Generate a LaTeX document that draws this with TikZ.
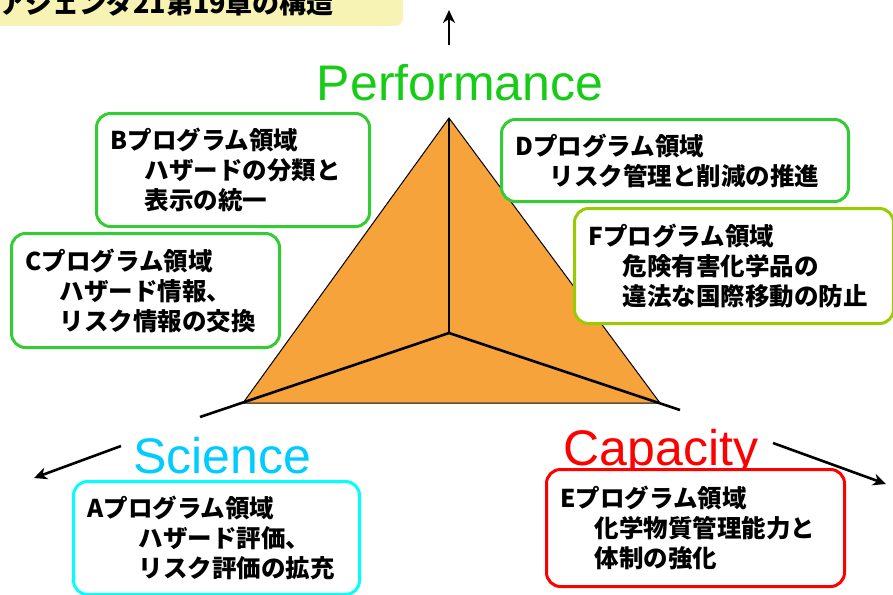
\documentclass[tikz,border=0pt]{standalone}
\usepackage{fontspec}
\setmainfont{Liberation Sans}
\newfontfamily\jpfont{Noto Sans CJK JP}
\usetikzlibrary{arrows.meta}
\definecolor{axPerf}{RGB}{22,204,22}
\definecolor{axSci}{RGB}{0,204,255}
\definecolor{axCap}{RGB}{255,0,0}
\definecolor{bxGreen}{RGB}{51,204,51}
\definecolor{bxLime}{RGB}{153,204,0}
\definecolor{bxCyan}{RGB}{0,255,255}
\definecolor{bxRed}{RGB}{255,0,0}
\definecolor{triFill}{RGB}{247,163,60}
\definecolor{ttlFill}{RGB}{247,243,181}
\newcommand{\IN}{\hspace*{34pt}}
\newcommand{\INa}{\hspace*{51pt}}

\begin{document}
\begin{tikzpicture}[
    x=1pt, y=-1pt,
    axis/.style={draw=black, line width=2.6pt},
    axarr/.style={axis, -{Stealth[length=13pt, width=12pt, inset=4pt]}},
    axlbl/.style={anchor=base, font=\fontsize{50}{60}\selectfont, inner sep=0pt},
    prog/.style={draw=#1, line width=3pt, rounded corners=14pt, fill=white,
      inner xsep=14pt, inner ysep=0pt, align=left, anchor=north west,
      font=\jpfont\bfseries\fontsize{24.5}{30}\selectfont},
  ]
  \useasboundingbox (0,0) rectangle (893,594);
  \clip (0,0) rectangle (893,594);

  %% ================= title =================
  \fill[ttlFill, rounded corners=8pt] (-20,-20) rectangle (403,26);
  \node[anchor=base west, inner sep=0pt, font=\jpfont\bfseries\fontsize{27}{30}\selectfont]
    (ttl) at (-1,14) {アジェンダ21第19章の構造};

  %% ================= the triangle and its three axes =================
  \coordinate (ctr) at (449,333);
  \coordinate (apx) at (449,118);
  \coordinate (vL)  at (243,403);
  \coordinate (vR)  at (660,403);
  \coordinate (eL)  at (200,417);
  \coordinate (eR)  at (680,410);
  \filldraw[fill=triFill, draw=black, line width=1pt] (apx) -- (vL) -- (vR) -- cycle;
  \draw[axis] (ctr) -- (apx);
  \draw[axis] (ctr) -- (eL);
  \draw[axis] (ctr) -- (eR);

  %% ---- axis names ----
  \node[axlbl, text=axPerf] (perf) at (460,100) {Performance};
  \node[axlbl, text=axSci]  (sci)  at (222,473) {Science};
  \node[axlbl, text=axCap]  (cap)  at (661,465) {Capacity};

  %% ---- arrow tips beyond the names ----
  \coordinate (upS) at (449,45);
  \coordinate (upE) at (449,10);
  \coordinate (sciS) at (121,446);
  \coordinate (sciE) at (34,478);
  \coordinate (capS) at (773,443);
  \coordinate (capE) at (886,484);
  \draw[axarr] (upS) -- (upE);
  \draw[axarr] (sciS) -- (sciE);
  \draw[axarr] (capS) -- (capE);

  %% ================= program areas =================
  \node[prog=bxGreen, minimum height=113pt, text width=245pt] (pB) at (95,112)
    {Bプログラム領域\\\IN ハザードの分類と\\\IN 表示の統一};
  \node[prog=bxGreen, minimum height=114pt, text width=240pt] (pC) at (10,232)
    {Cプログラム領域\\\IN ハザード情報、\\\IN リスク情報の交換};
  \node[prog=bxGreen, minimum height=82pt, text width=319pt] (pD) at (500,118)
    {Dプログラム領域\\\IN リスク管理と削減の推進};
  \node[prog=bxLime, minimum height=115pt, text width=291pt] (pF) at (573,207)
    {Fプログラム領域\\\IN 危険有害化学品の\\\IN 違法な国際移動の防止};
  \node[prog=bxCyan, minimum height=113pt, text width=258pt] (pA) at (72,480)
    {Aプログラム領域\\\INa ハザード評価、\\\INa リスク評価の拡充};
  \node[prog=bxRed, minimum height=117pt, text width=270pt] (pE) at (545,468)
    {Eプログラム領域\\\IN 化学物質管理能力と\\\IN 体制の強化};

\end{tikzpicture}
\end{document}
